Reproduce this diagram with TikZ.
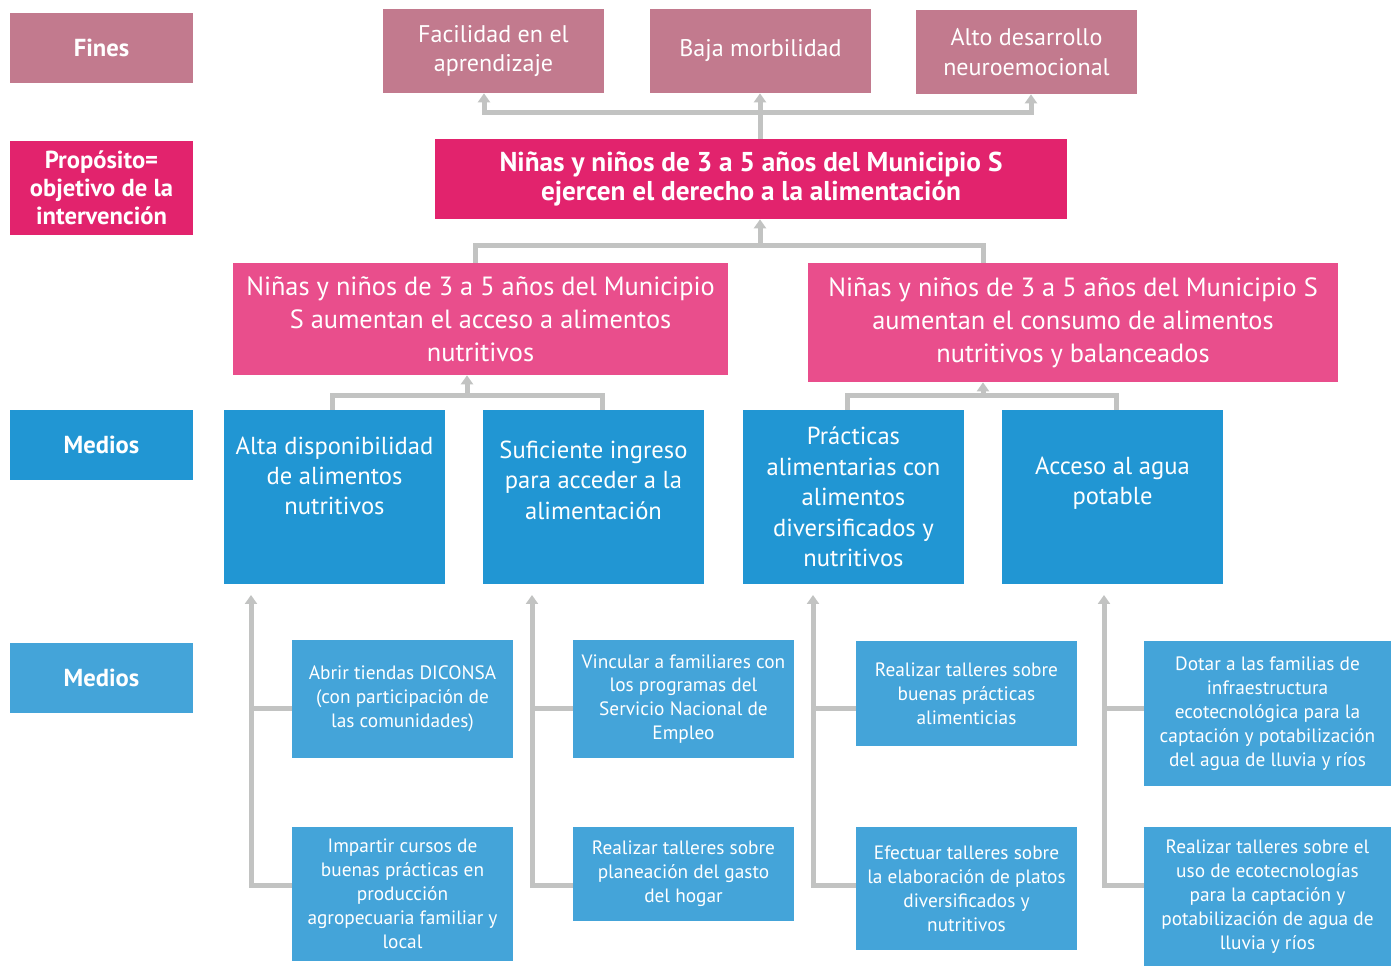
\documentclass[tikz,border=0pt]{standalone}
\usepackage{fontspec}
\setmainfont{PT Sans}
\usepackage{tikz}
\usetikzlibrary{arrows.meta}
\usetikzlibrary{calc}
\usetikzlibrary{positioning}

\definecolor{finescol}{RGB}{194,122,142}
\definecolor{purposecol}{RGB}{226,35,109}
\definecolor{resultcol}{RGB}{233,78,140}
\definecolor{mediocol}{RGB}{33,150,211}
\definecolor{actioncol}{RGB}{68,164,217}
\definecolor{linecol}{RGB}{194,195,194}

\begin{document}
\begin{tikzpicture}[
        label_style/.style={rectangle,minimum width=3.66cm,minimum height=1.4cm,inner sep=0pt,align=center,text=white,font=\fontsize{14}{16}\selectfont\bfseries},
        fines_style/.style={rectangle,fill=finescol,minimum width=4.42cm,minimum height=1.68cm,inner sep=0pt,align=center,text=white,font=\fontsize{13.7}{17}\selectfont},
        purpose_style/.style={rectangle,fill=purposecol,minimum width=12.64cm,minimum height=1.6cm,inner sep=0pt,align=center,text=white,font=\fontsize{15.5}{17}\selectfont\bfseries},
        result_style/.style={rectangle,fill=resultcol,inner sep=0pt,align=center,text=white,font=\fontsize{15}{18.7}\selectfont},
        medio_style/.style={rectangle,fill=mediocol,minimum width=4.42cm,minimum height=3.48cm,inner sep=0pt,align=center,text=white,font=\fontsize{14}{17.3}\selectfont},
        medio_text_style/.style={inner sep=0pt,align=center,text=white,font=\fontsize{14}{17.3}\selectfont},
        action_style/.style={rectangle,fill=actioncol,minimum width=4.42cm,inner sep=0pt,align=center,text=white,font=\fontsize{11}{13.6}\selectfont},
        edge_style/.style={draw=linecol,line width=0.1cm},
        arrow_style/.style={draw=linecol,line width=0.1cm,-{Triangle[width=0.24cm,length=0.18cm]}},
        double_arrow_style/.style={draw=linecol,line width=0.1cm,{Triangle[width=0.24cm,length=0.18cm]}-{Triangle[width=0.24cm,length=0.18cm]}}]

        \useasboundingbox (0,0) rectangle (27.82,19.34);

        \node [label_style,fill=finescol](lf) at (2.03,18.38) {Fines};
        \node [label_style,fill=purposecol,minimum height=1.88cm](lp) at (2.03,15.58) {Propósito=\\objetivo de la\\intervención};
        \node [label_style,fill=mediocol](lm1) at (2.03,10.44) {Medios};
        \node [label_style,fill=actioncol](lm2) at (2.03,5.78) {Medios};

        \node [fines_style](f1) at (9.87,18.32) {Facilidad en el\\aprendizaje};
        \node [fines_style](f2) at (15.21,18.32) {Baja morbilidad};
        \node [fines_style](f3) at (20.53,18.30) {Alto desarrollo\\neuroemocional};

        \node [purpose_style](p) at (15.02,15.76) {Niñas y niños de 3 a 5 años del Municipio S\\ejercen el derecho a la alimentación};

        \node [result_style,minimum width=9.9cm,minimum height=2.24cm](r1) at (9.61,12.96) {Niñas y niños de 3 a 5 años del Municipio\\S aumentan el acceso a alimentos\\nutritivos};
        \node [result_style,minimum width=10.6cm,minimum height=2.38cm](r2) at (21.46,12.89) {Niñas y niños de 3 a 5 años del Municipio S\\aumentan el consumo de alimentos\\nutritivos y balanceados};

        \node [medio_style](m1) at (6.69,9.40) {};
        \node [medio_style](m2) at (11.87,9.40) {};
        \node [medio_style](m3) at (17.07,9.40) {Prácticas\\alimentarias con\\alimentos\\diversificados y\\nutritivos};
        \node [medio_style](m4) at (22.25,9.40) {};
        \node [medio_text_style](m1t) at ([yshift=0.42cm]m1.center) {Alta disponibilidad\\de alimentos\\nutritivos};
        \node [medio_text_style](m2t) at ([yshift=0.34cm]m2.center) {Suficiente ingreso\\para acceder a la\\alimentación};
        \node [medio_text_style](m4t) at ([yshift=0.28cm]m4.center) {Acceso al agua\\potable};

        \node [action_style,minimum height=2.36cm](a11) at (8.05,5.36) {Abrir tiendas DICONSA\\(con participación de\\las comunidades)};
        \node [action_style,minimum height=2.68cm](a12) at (8.05,1.46) {Impartir cursos de\\buenas prácticas en\\producción\\agropecuaria familiar y\\local};
        \node [action_style,minimum height=2.36cm](a21) at (13.67,5.36) {Vincular a familiares con\\los programas del\\Servicio Nacional de\\Empleo};
        \node [action_style,minimum height=1.88cm](a22) at (13.67,1.86) {Realizar talleres sobre\\planeación del gasto\\del hogar};
        \node [action_style,minimum height=2.1cm](a31) at (19.33,5.47) {Realizar talleres sobre\\buenas prácticas\\alimenticias};
        \node [action_style,minimum height=2.46cm](a32) at (19.33,1.57) {Efectuar talleres sobre\\la elaboración de platos\\diversificados y\\nutritivos};
        \node [action_style,minimum width=4.94cm,minimum height=2.9cm](a41) at (25.35,5.07) {Dotar a las familias de\\infraestructura\\ecotecnológica para la\\captación y potabilización\\del agua de lluvia y ríos};
        \node [action_style,minimum width=4.94cm,minimum height=2.78cm](a42) at (25.35,1.41) {Realizar talleres sobre el\\uso de ecotecnologías\\para la captación y\\potabilización de agua de\\lluvia y ríos};

        \coordinate (fj) at (15.2,17.08);
        \coordinate (pj) at (15.2,14.42);
        \coordinate (lj) at (9.34,11.42);
        \coordinate (rj) at (19.66,11.42);
        \coordinate (c1) at (5.02,7.44);
        \coordinate (c2) at (10.64,7.44);
        \coordinate (c3) at (16.26,7.44);
        \coordinate (c4) at (22.08,7.44);

        \draw [double_arrow_style] ([xshift=-0.19cm]f1.south) -- ([xshift=-0.19cm]f1.south |- fj) -- ([xshift=0.09cm]f3.south |- fj) -- ([xshift=0.09cm]f3.south);
        \draw [arrow_style] (p.north -| fj) -- (f2.south -| fj);
        \draw [arrow_style] (pj) -- (p.south -| pj);
        \draw [edge_style] ([xshift=-0.11cm]r1.north) |- (pj) -| ([xshift=-1.8cm]r2.north);
        \draw [arrow_style] (lj) -- (r1.south -| lj);
        \draw [edge_style] ([xshift=-0.05cm]m1.north) |- (lj) -| ([xshift=0.17cm]m2.north);
        \draw [arrow_style] (rj) -- (r2.south -| rj);
        \draw [edge_style] ([xshift=-0.13cm]m3.north) |- (rj) -| ([xshift=0.07cm]m4.north);

        \draw [arrow_style] ([yshift=0.16cm]a12.west) -| (c1);
        \draw [edge_style] ([yshift=-0.2cm]a11.west) -- ([yshift=-0.2cm]a11.west -| c1);
        \draw [arrow_style] ([yshift=-0.24cm]a22.west) -| (c2);
        \draw [edge_style] ([yshift=-0.2cm]a21.west) -- ([yshift=-0.2cm]a21.west -| c2);
        \draw [arrow_style] ([yshift=0.05cm]a32.west) -| (c3);
        \draw [edge_style] ([yshift=-0.31cm]a31.west) -- ([yshift=-0.31cm]a31.west -| c3);
        \draw [arrow_style] ([yshift=0.21cm]a42.west) -| (c4);
        \draw [edge_style] ([yshift=0.09cm]a41.west) -- ([yshift=0.09cm]a41.west -| c4);
\end{tikzpicture}
\end{document}
